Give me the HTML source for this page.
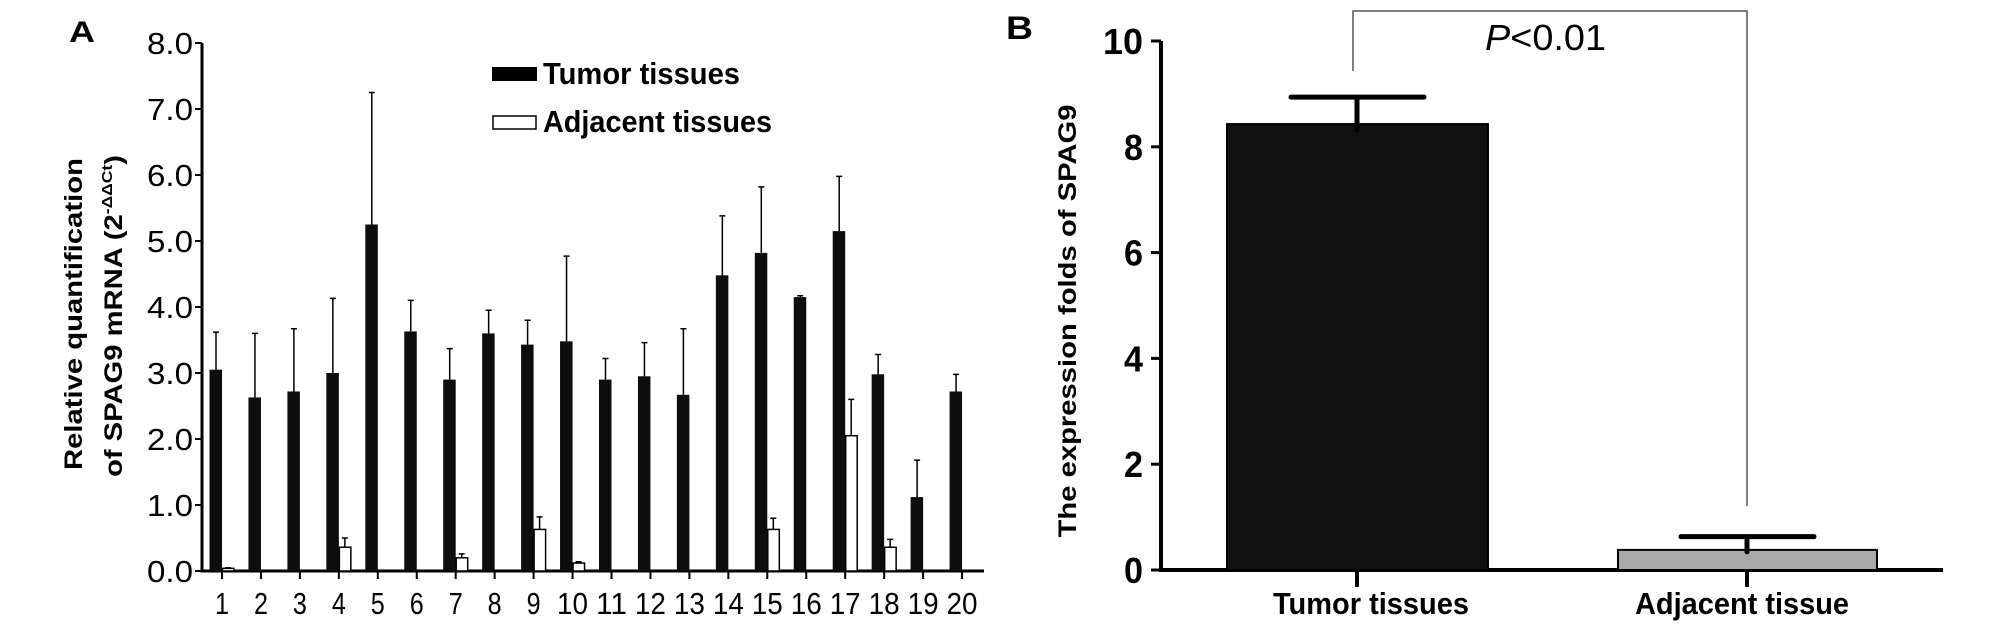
<!DOCTYPE html>
<html><head><meta charset="utf-8"><style>
html,body{margin:0;padding:0;background:#fff;}
svg{display:block;font-family:"Liberation Sans",Arial,sans-serif;}
</style></head><body>
<svg id="chart" width="2008" height="634" viewBox="0 0 2008 634">
<g id="panelA">
<text x="69" y="42" font-size="30" font-weight="bold" textLength="26" lengthAdjust="spacingAndGlyphs">A</text>
<g transform="translate(82,314) rotate(-90)">
<text x="0" y="0" text-anchor="middle" font-size="25" font-weight="bold" textLength="312" lengthAdjust="spacingAndGlyphs">Relative quantification</text>
<text x="-2" y="40" text-anchor="middle" font-size="25" font-weight="bold" textLength="322" lengthAdjust="spacingAndGlyphs">of SPAG9 mRNA (2<tspan font-size="15" dy="-10">-ΔΔCt</tspan><tspan dy="10">)</tspan></text>
</g>
<g id="legendA">
<rect x="492" y="67" width="45" height="14" fill="#000"/>
<text x="543" y="84" font-size="31" font-weight="bold" textLength="197" lengthAdjust="spacingAndGlyphs">Tumor tissues</text>
<rect x="493" y="116" width="43" height="13" fill="#fff" stroke="#000" stroke-width="1.5"/>
<text x="543" y="132" font-size="31" font-weight="bold" textLength="229" lengthAdjust="spacingAndGlyphs">Adjacent tissues</text>
</g>
</g>
<g id="panelB">
<text x="1006" y="39" font-size="32" font-weight="bold" textLength="27" lengthAdjust="spacingAndGlyphs">B</text>
<text transform="translate(1076,321) rotate(-90)" text-anchor="middle" font-size="25" font-weight="bold" textLength="433" lengthAdjust="spacingAndGlyphs">The expression folds of SPAG9</text>
<polyline points="1353,71 1353,11 1747,11 1747,506" fill="none" stroke="#555" stroke-width="1.5"/>
<text x="1485" y="50" font-size="36" textLength="121" lengthAdjust="spacingAndGlyphs"><tspan font-style="italic">P</tspan>&lt;0.01</text>
</g>
</svg>
<script>
const NS="http://www.w3.org/2000/svg";
const svg=document.getElementById('chart');
// Panel A data
const categoriesA=["1","2","3","4","5","6","7","8","9","10","11","12","13","14","15","16","17","18","19","20"];
const tumorValues=[3.05,2.63,2.72,3.0,5.25,3.63,2.9,3.6,3.43,3.48,2.9,2.95,2.67,4.48,4.82,4.15,5.15,2.98,1.12,2.72];
const tumorErrTop=[3.62,3.6,3.67,4.13,7.25,4.1,3.37,3.95,3.8,4.77,3.22,3.46,3.67,5.38,5.82,4.17,5.98,3.28,1.68,2.98];
const adjValues=[0.04,0,0,0.36,0,0,0.2,0,0.63,0.12,0,0,0,0,0.63,0,2.05,0.36,0,0];
const adjErrTop=[0.05,0,0,0.5,0,0,0.26,0,0.82,0.14,0,0,0,0,0.8,0,2.6,0.48,0,0];
const yTicksA=[0,1,2,3,4,5,6,7,8];
const yTickLabelsA=["0.0","1.0","2.0","3.0","4.0","5.0","6.0","7.0","8.0"];
// Panel B data
const categoriesB=["Tumor tissues","Adjacent tissue"];
const meansB=[8.43,0.38];
const errTopB=[8.94,0.63];
const yTicksB=[0,2,4,6,8,10];
const yTickLabelsB=["0","2","4","6","8","10"];

function mk(tag,attrs,parent,text){const e=document.createElementNS(NS,tag);for(const k in attrs)e.setAttribute(k,attrs[k]);if(text!==undefined)e.textContent=text;(parent||svg).appendChild(e);return e;}

const gA=document.getElementById('panelA');
const yA=v=>571-v*66;
const xA=i=>222+i*38.95;
let ax=mk('line',{x1:202,y1:yA(8),x2:202,y2:yA(0)+1.5,stroke:'#000','stroke-width':3},gA);


ax=mk('line',{x1:201,y1:yA(0),x2:984,y2:yA(0),stroke:'#000','stroke-width':3},gA);


yTicksA.forEach((v,i)=>{
  const t=mk('line',{x1:195,y1:yA(v),x2:202,y2:yA(v),stroke:'#000','stroke-width':2},gA);
  
  
  const l=mk('text',{x:193,y:yA(v)+11,'text-anchor':'end','font-size':31,textLength:46,lengthAdjust:'spacingAndGlyphs'},gA,yTickLabelsA[i]);
  
  
});
categoriesA.forEach((c,i)=>{
  const cx=xA(i);
  const t=mk('line',{x1:cx,y1:yA(0),x2:cx,y2:yA(0)+8,stroke:'#000','stroke-width':2},gA);
  
  
  const l=mk('text',{x:cx,y:614,'text-anchor':'middle','font-size':31,textLength:c.length>1?31:14,lengthAdjust:'spacingAndGlyphs'},gA,c);
  
  
  const e=mk('path',{d:`M${cx-6},${yA(tumorValues[i])} V${yA(tumorErrTop[i])} M${cx-9},${yA(tumorErrTop[i])} H${cx-3}`,stroke:'#000','stroke-width':1.5,fill:'none'},gA);
  
  
  const b=mk('rect',{x:cx-12.5,y:yA(tumorValues[i]),width:12.5,height:yA(0)-yA(tumorValues[i]),fill:'#0d0d0d'},gA);
  
  
  if(adjValues[i]>0){
    if(adjErrTop[i]>adjValues[i]){
      const e2=mk('path',{d:`M${cx+6},${yA(adjValues[i])} V${yA(adjErrTop[i])} M${cx+3},${yA(adjErrTop[i])} H${cx+9}`,stroke:'#000','stroke-width':1.5,fill:'none'},gA);
      
      
    }
    const b2=mk('rect',{x:cx+0.5,y:yA(adjValues[i]),width:11.5,height:yA(0)-yA(adjValues[i]),fill:'#fff',stroke:'#000','stroke-width':1.5},gA);
    
    
  }
});

const gB=document.getElementById('panelB');
const yB=v=>570-v*52.9;
const xCentersB=[1357,1747];
ax=mk('line',{x1:1161,y1:yB(10),x2:1161,y2:yB(0)+2,stroke:'#000','stroke-width':4},gB);


ax=mk('line',{x1:1159,y1:yB(0),x2:1943,y2:yB(0),stroke:'#000','stroke-width':4},gB);


yTicksB.forEach((v,i)=>{
  const t=mk('line',{x1:1151,y1:yB(v),x2:1161,y2:yB(v),stroke:'#000','stroke-width':3},gB);
  
  
  const s=yTickLabelsB[i];
  const l=mk('text',{x:1143,y:yB(v)+13,'text-anchor':'end','font-size':36,'font-weight':'bold',textLength:s.length>1?40:19,lengthAdjust:'spacingAndGlyphs'},gB,s);
  
  
});
const barW=[261,259];
categoriesB.forEach((c,i)=>{
  const cx=xCentersB[i];
  const t=mk('line',{x1:cx,y1:yB(0),x2:cx,y2:587,stroke:'#000','stroke-width':4},gB);
  
  
  const l=mk('text',{x:cx+(i?-5:14),y:614,'text-anchor':'middle','font-size':31,'font-weight':'bold',textLength:i?214:196,lengthAdjust:'spacingAndGlyphs'},gB,c);
  
  
  const b=mk('rect',{x:cx-(i?129:130),y:yB(meansB[i]),width:barW[i],height:yB(0)-yB(meansB[i]),fill:i?'#aaaaaa':'#111',stroke:'#000','stroke-width':2},gB);
  
  
  const e=mk('path',{d:`M${cx},${yB(meansB[i])+(i?2:6)} V${yB(errTopB[i])} M${cx-66},${yB(errTopB[i])} H${cx+67}`,stroke:'#000','stroke-width':5,fill:'none','stroke-linecap':'round'},gB);
  
  
});
</script>
</body></html>
